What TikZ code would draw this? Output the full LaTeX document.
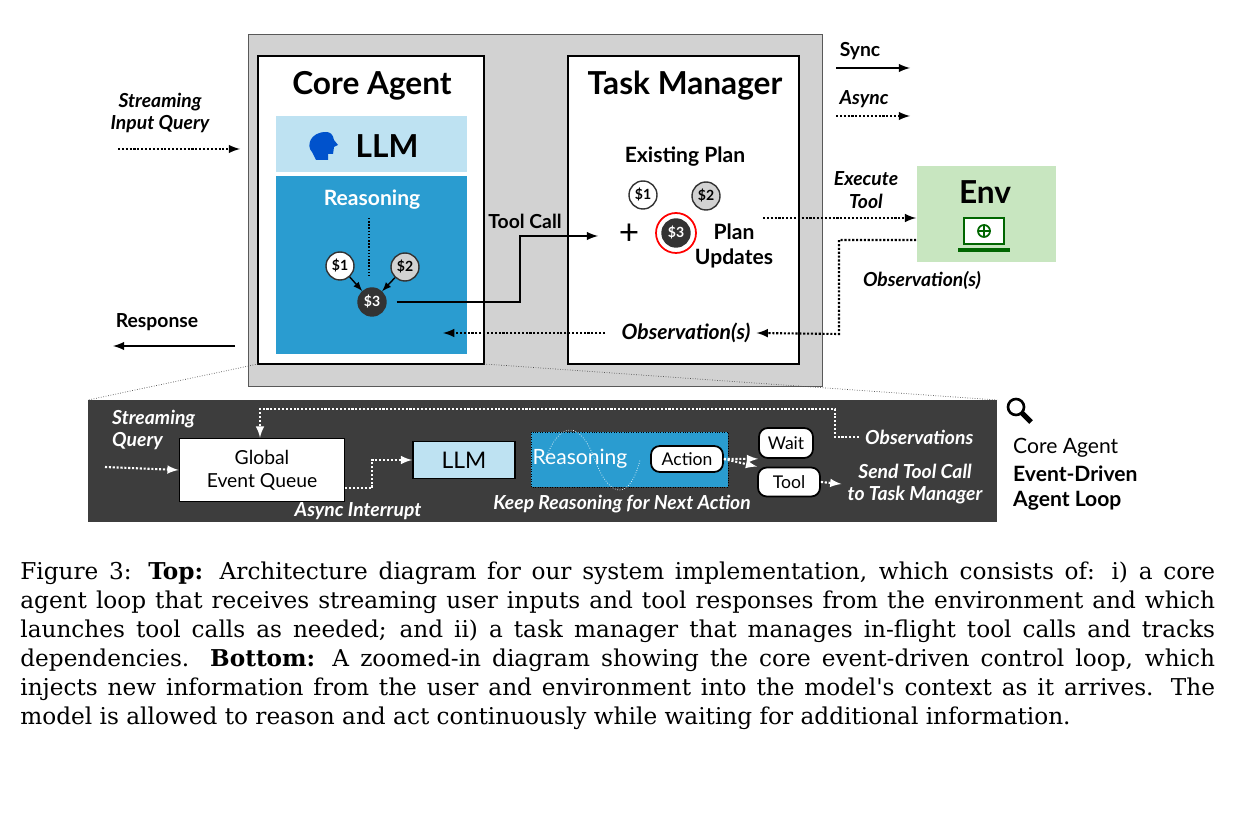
\documentclass[tikz,border=0pt]{standalone}
\usepackage{fontspec}
\setsansfont{Lato}
\newfontfamily\capfont{DejaVu Serif}
\usetikzlibrary{calc}
\definecolor{rblue}{HTML}{2A9CD0}
\definecolor{lblue}{HTML}{BEE2F2}
\definecolor{envg}{HTML}{C8E6C0}
\definecolor{darkbg}{HTML}{3D3D3D}
\definecolor{ddark}{HTML}{333333}
\tikzset{
  lbl/.style={font=\sffamily\bfseries\fontsize{11}{13}\selectfont, align=center},
  ilbl/.style={font=\sffamily\bfseries\itshape\fontsize{11}{13}\selectfont, align=center},
  ttl/.style={font=\sffamily\bfseries\fontsize{18}{20}\selectfont},
  sbub/.style={circle, draw=ddark, line width=0.8pt, minimum size=0.56cm, inner sep=0pt, font=\sffamily\bfseries\fontsize{8}{9}\selectfont},
  dots/.style={densely dotted, line width=1.2pt},
  tip/.style={-latex},
  wbox/.style={draw=black, line width=1pt, fill=white, align=center, font=\sffamily\fontsize{11}{13}\selectfont},
}
\begin{document}
\begin{tikzpicture}[x=0.02cm, y=-0.02cm]
\useasboundingbox (0,0) rectangle (1237,813);
% top part
\fill[gray!35] (248,34) rectangle (822,386);
\draw[gray!70!black] (248,34) rectangle (822,386);
\draw[line width=1.5pt, fill=white] (258,56) rectangle (484,364);
\draw[line width=1.5pt, fill=white] (568,56) rectangle (799,364);
\node[ttl] (core) at (372,86) {Core Agent};
\node[ttl] (tm) at (685,86) {Task Manager};
% llm and reasoning
\fill[lblue] (276,116) rectangle (467,172);
\fill[rblue] (276,176) rectangle (467,354);
\fill[blue!60!cyan!80!black] (326,132) .. controls (310,132) and (306,146) .. (312,152) -- (316,160) -- (328,160) -- (328,154) -- (333,154) -- (334,147) -- (338,145) -- (334,140) .. controls (333,134) and (330,132) .. (326,132) -- cycle;
\node[ttl] (llm) at (387,146) {LLM};
\node[lbl, white, font=\sffamily\bfseries\fontsize{12}{14}\selectfont] (rsn) at (372,200) {Reasoning};
\node[sbub, fill=white] (a1) at (340,266) {\$1};
\node[sbub, fill=gray!35] (a2) at (405,267) {\$2};
\node[sbub, fill=ddark, text=white] (a3) at (372,302) {\$3};
\draw[densely dotted, line width=0.8pt] (369,218) -- (369,278);
\draw[-latex, line width=0.8pt] (a1) -- (a3);
\draw[-latex, line width=0.8pt] (a2) -- (a3);
\coordinate (tc) at (598,236);
\draw[tip, line width=1.2pt] ($(a3.east)+(10,0)$) -- (520,302) -- (520,236) -- (tc);
\node[lbl] (tcl) at (525,221) {Tool Call};
% task manager content
\node[lbl, font=\sffamily\bfseries\fontsize{12}{14}\selectfont] (ep) at (685,157) {Existing Plan};
\node[sbub, fill=white] (p1) at (643,195) {\$1};
\node[sbub, fill=gray!35] (p2) at (706,196) {\$2};
\node[sbub, fill=ddark, text=white] (p3) at (676,233) {\$3};
\draw[red, line width=1pt] (p3) circle (0.4cm);
\node[font=\sffamily\fontsize{20}{20}\selectfont] (plus) at (629,234) {+};
\node[lbl, font=\sffamily\bfseries\fontsize{12}{14}\selectfont] (pu) at (734,246) {Plan\\Updates};
\node[ilbl, font=\sffamily\bfseries\itshape\fontsize{12}{14}\selectfont] (obs) at (686,333) {Observation(s)};
\coordinate (rin) at (443,333);
\draw[dots, tip] (605,333) -- (rin);
% env
\node[fill=envg, minimum width=2.78cm, minimum height=1.94cm] (env) at (986,214) {};
\node[ttl] (envt) at (985,192) {Env};
\draw[green!40!black, line width=1.2pt, fill=white] (964,218) rectangle (1004,244);
\draw[green!40!black, line width=2pt] (958,250) -- (1010,250);
\draw[green!40!black, line width=1pt] (984,231) circle (6) (978,231) -- (990,231) (984,225) -- (984,237);
\draw[dots, tip] (763,218) -- (env.west |- 0,218);
\node[ilbl] (exe) at (866,190) {Execute\\Tool};
\draw[dots, tip] (env.south west |- 0,240) -- (839,240) -- (839,334) -- (obs.east);
\node[ilbl] (obs2) at (922,280) {Observation(s)};
% left side and legend
\node[ilbl] (sq) at (160,113) {Streaming\\Input Query};
\coordinate (sq1) at (118,149);
\coordinate (sq2) at (240,149);
\draw[dots, tip] (sq1) -- (sq2);
\node[lbl] (resp) at (157,322) {Response};
\coordinate (rs1) at (235,346);
\coordinate (rs2) at (113,346);
\draw[tip, line width=1.2pt] (rs1) -- (rs2);
\node[lbl] (sync) at (860,51) {Sync};
\coordinate (sy1) at (836,68);
\coordinate (sy2) at (910,68);
\draw[tip, line width=1.2pt] (sy1) -- (sy2);
\node[ilbl] (async) at (864,99) {Async};
\coordinate (as1) at (836,116);
\coordinate (as2) at (910,116);
\draw[dots, tip] (as1) -- (as2);
% zoom lines
\draw[densely dotted, gray!60!black] (258,364) -- (88,400);
\draw[densely dotted, gray!60!black] (484,364) -- (997,400);
% bottom loop
\fill[darkbg] (88,400) rectangle (997,522);
\node[ilbl, white, align=left, anchor=west] (bsq) at (106,430) {Streaming\\Query};
\node[wbox, minimum width=3.3cm, minimum height=1.26cm] (geq) at (262,470) {Global\\Event Queue};
\coordinate (bs1) at (105,467);
\draw[dots, white, tip] (bs1) -- (geq.west);
\node[wbox, fill=lblue, minimum width=2.04cm, minimum height=0.74cm, font=\sffamily\fontsize{13}{15}\selectfont] (bllm) at (464,460) {LLM};
\draw[dots, white, tip] (geq.east |- 0,488) -- (372,488) -- (372,460) -- (bllm.west);
\node[ilbl, white] (ai) at (358,511) {Async Interrupt};
\draw[fill=rblue, densely dotted, draw=black] (531,432) rectangle (728,487);
\draw[white, densely dotted] (545,460) .. controls (560,420) and (580,420) .. (595,460) .. controls (610,500) and (630,500) .. (640,460);
\node[font=\sffamily\fontsize{12}{14}\selectfont, white] (brs) at (580,459) {Reasoning};
\node[wbox, rounded corners=5pt, minimum width=1.44cm, minimum height=0.52cm, font=\sffamily\fontsize{10}{12}\selectfont] (act) at (687,459) {Action};
\node[wbox, rounded corners=5pt, minimum width=1.08cm, minimum height=0.6cm, font=\sffamily\fontsize{10}{12}\selectfont] (wait) at (786,443) {Wait};
\node[wbox, rounded corners=5pt, minimum width=1.24cm, minimum height=0.58cm, font=\sffamily\fontsize{10}{12}\selectfont] (tool) at (789,482) {Tool};
\draw[dots, white, tip] (act.east) -- (wait.south west);
\draw[dots, white, tip] (act.east) -- (tool.north west);
\node[ilbl, white] (krn) at (622,504) {Keep Reasoning for Next Action};
\node[ilbl, white] (stc) at (915,484) {Send Tool Call\\to Task Manager};
\draw[dots, white, tip] (tool.east) -- (stc.west);
\node[ilbl, white, anchor=west] (bobs) at (859,437) {Observations};
\draw[dots, white, tip] (bobs.west) -- (835,437) -- (835,409) -- (260,409) -- (geq.north -| 260,0);
% magnifier and legend text
\draw[line width=1.5pt] (1016,407) circle (8);
\draw[line width=3pt] (1022,413) -- (1031,422);
\node[font=\sffamily\fontsize{12}{14}\selectfont, anchor=west] (ca) at (1007,448) {Core Agent};
\node[lbl, font=\sffamily\bfseries\fontsize{12}{14}\selectfont, align=left, anchor=north west] (edl) at (1007,460) {Event-Driven\\Agent Loop};
% caption
\node[anchor=north west, text width=23.9cm, align=justify, inner sep=0pt, font=\capfont\fontsize{13.2}{16.4}\selectfont] (cap) at (20,562) {Figure 3: \textbf{Top:} Architecture diagram for our system implementation, which consists of: i) a core agent loop that receives streaming user inputs and tool responses from the environment and which launches tool calls as needed; and ii) a task manager that manages in-flight tool calls and tracks dependencies. \textbf{Bottom:} A zoomed-in diagram showing the core event-driven control loop, which injects new information from the user and environment into the model's context as it arrives. The model is allowed to reason and act continuously while waiting for additional information.};
\end{tikzpicture}
\end{document}
